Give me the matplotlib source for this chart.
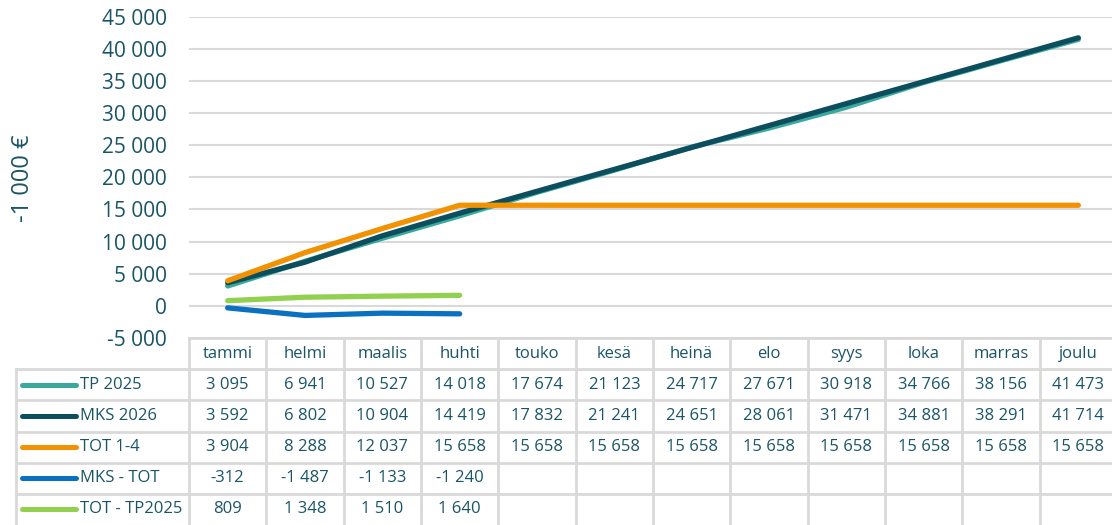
import matplotlib
matplotlib.use("Agg")
import matplotlib.pyplot as plt

plt.rcParams['font.family'] = ['Open Sans', 'DejaVu Sans']

months = ["tammi", "helmi", "maalis", "huhti", "touko", "kesä",
          "heinä", "elo", "syys", "loka", "marras", "joulu"]

tp2025 = [3095, 6941, 10527, 14018, 17674, 21123, 24717, 27671, 30918, 34766, 38156, 41473]
mks2026 = [3592, 6802, 10904, 14419, 17832, 21241, 24651, 28061, 31471, 34881, 38291, 41714]
tot14 = [3904, 8288, 12037, 15658, 15658, 15658, 15658, 15658, 15658, 15658, 15658, 15658]
mks_tot = [-312, -1487, -1133, -1240]
tot_tp = [809, 1348, 1510, 1640]

series_names = ["TP 2025", "MKS 2026", "TOT 1-4", "MKS - TOT", "TOT - TP2025"]
series_values = [tp2025, mks2026, tot14, mks_tot, tot_tp]
series_colors = ["#3AA99B", "#0C4E5E", "#F39200", "#0A70C0", "#92D050"]

text_col = "#1A5566"
grid_col = "#D9D9D9"


def fmt(v):
    return f"{v:,.0f}".replace(",", " ")


W, H = 1112, 525
left_px, right_px = 189, 1117
top_px, base_px = 16.7, 338
col_px = (right_px - left_px) / 12

fig = plt.figure(figsize=(W / 100, H / 100), dpi=100)

# line chart
ax = fig.add_axes([left_px / W, 1 - base_px / H, (right_px - left_px) / W, (base_px - top_px) / H])
for vals, col in zip(series_values, series_colors):
    ax.plot(range(len(vals)), vals, color=col, lw=3.8, solid_capstyle='round', zorder=3)
ax.set_xlim(-0.5, 11.5)
ax.set_ylim(-5000, 45000)
ticks = list(range(-5000, 45001, 5000))
ax.set_yticks(ticks)
ax.set_yticklabels([fmt(t) for t in ticks], fontsize=15, color=text_col)
ax.set_xticks([])
ax.tick_params(axis='y', length=0, pad=16)
ax.grid(axis='y', color=grid_col, lw=1.5, zorder=0)
for s in ax.spines.values():
    s.set_visible(False)
fig.text(23 / W, 1 - 178 / H, "-1 000 €", rotation=90, ha='center', va='center',
         fontsize=17, color=text_col)

# data table below the chart
tab = fig.add_axes([left_px / W, 0, (right_px - left_px) / W, (H - base_px) / H])
tab.set_xlim(-0.5, 11.5)
tab.set_ylim(6, 0)
tab.axis('off')


def px2x(px):
    return -0.5 + (px - left_px) / col_px


x_border = px2x(16)
lkw = dict(color=grid_col, lw=2, clip_on=False)
tab.plot([-0.5, 11.5], [0, 0], **lkw)
for r in range(1, 6):
    tab.plot([x_border, 11.5], [r, r], **lkw)
tab.plot([x_border, x_border], [1, 6], **lkw)
for c in range(13):
    tab.plot([c - 0.5, c - 0.5], [0, 6], **lkw)

for i, m in enumerate(months):
    tab.text(i, 0.5, m, ha='center', va='center', fontsize=12, color=text_col)

for r, (name, vals, col) in enumerate(zip(series_names, series_values, series_colors)):
    y = r + 1.5
    tab.plot([px2x(22), px2x(76)], [y, y], color=col, lw=3.6,
             solid_capstyle='round', clip_on=False)
    tab.text(px2x(80), y, name, ha='left', va='center', fontsize=12, color=text_col)
    for i, v in enumerate(vals):
        tab.text(i, y, fmt(v), ha='center', va='center', fontsize=12, color=text_col)

fig.savefig("out.png", dpi=100)
